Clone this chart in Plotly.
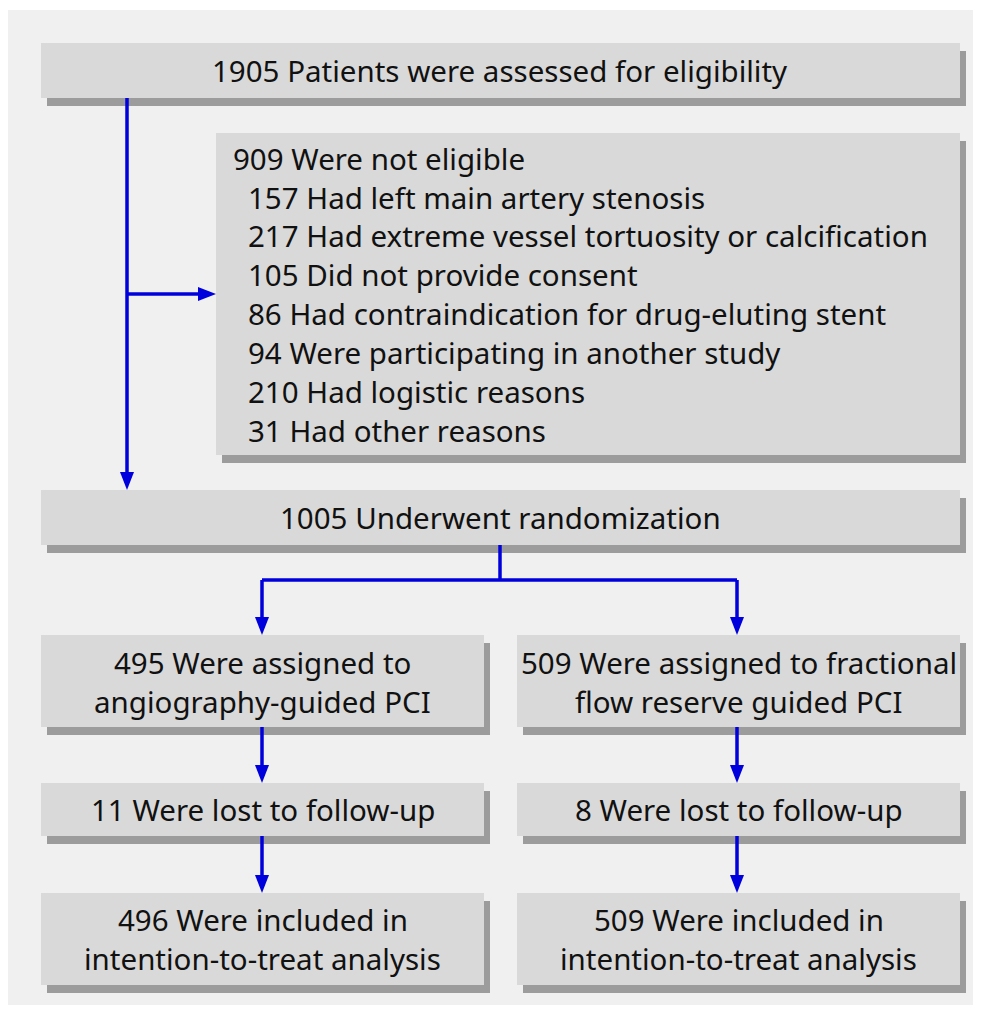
import plotly.graph_objects as go

# ---- data (texts of the flow diagram) ----
top_text = ["1905 Patients were assessed for eligibility"]
excl_header = ["909 Were not eligible"]
excl_counts = [157, 217, 105, 86, 94, 210, 31]
excl_reasons = [
    "Had left main artery stenosis",
    "Had extreme vessel tortuosity or calcification",
    "Did not provide consent",
    "Had contraindication for drug-eluting stent",
    "Were participating in another study",
    "Had logistic reasons",
    "Had other reasons",
]
rand_text = ["1005 Underwent randomization"]
arm_assigned = [["495 Were assigned to", "angiography-guided PCI"],
                ["509 Were assigned to fractional", "flow reserve guided PCI"]]
arm_lost = ["11 Were lost to follow-up", "8 Were lost to follow-up"]
arm_included = [["496 Were included in", "intention-to-treat analysis"],
                ["509 Were included in", "intention-to-treat analysis"]]

# page offset (body margin) handled via axis ranges
OFF = 8
W, H = 965, 1000
FONT = "Noto Sans"
FS = 29.5
BLUE = "#0000dd"
BOX = "#d9d9d9"
SHADOW = "#9c9c9c"

fig = go.Figure()
shapes = []
annotations = []

# panel background
shapes.append(dict(type="rect", x0=8, y0=10, x1=990, y1=1005, fillcolor="#f0f0f0",
                   line=dict(width=0), layer="below"))

def box(x0, y0, x1, y1):
    shapes.append(dict(type="rect", x0=x0 + 6, y0=y0 + 8, x1=x1 + 6, y1=y1 + 8,
                       fillcolor=SHADOW, line=dict(width=0), layer="below"))
    shapes.append(dict(type="rect", x0=x0, y0=y0, x1=x1, y1=y1,
                       fillcolor=BOX, line=dict(width=0), layer="below"))

def text(x, y, s, anchor="center"):
    annotations.append(dict(x=x, y=y, text=s, showarrow=False, xanchor=anchor,
                            yanchor="middle",
                            font=dict(family=FONT, size=FS, color="#111111")))

def line(x0, y0, x1, y1):
    shapes.append(dict(type="line", x0=x0, y0=y0, x1=x1, y1=y1,
                       line=dict(color=BLUE, width=3.5)))

def head_down(x, y):
    shapes.append(dict(type="path", path=f"M {x-7} {y-18} L {x+7} {y-18} L {x} {y} Z",
                       fillcolor=BLUE, line=dict(width=0)))

def head_right(x, y):
    shapes.append(dict(type="path", path=f"M {x-18} {y-7} L {x-18} {y+7} L {x} {y} Z",
                       fillcolor=BLUE, line=dict(width=0)))

# boxes
box(41, 43, 960, 98)
box(216, 133, 960, 455)
box(41, 490, 960, 545)
L = (41, 484)
R = (517, 960)
for (a, b) in (L, R):
    box(a, 635, b, 727)
    box(a, 783, b, 836)
    box(a, 893, b, 985)

# texts
text(500, 70, top_text[0])
text(231, 158, excl_header[0], "left")
for i, (c, r) in enumerate(zip(excl_counts, excl_reasons)):
    text(246, 197 + i * 38.9, f"{c} {r}", "left")
text(500, 517, rand_text[0])
centers = [(L[0] + L[1]) / 2, (R[0] + R[1]) / 2]
for i, cx in enumerate(centers):
    text(cx, 662, arm_assigned[i][0])
    text(cx, 701, arm_assigned[i][1])
    text(cx, 809, arm_lost[i])
    text(cx, 919, arm_included[i][0])
    text(cx, 958, arm_included[i][1])

# arrows
line(127, 98, 127, 476)
head_down(127, 490)
line(127, 294, 202, 294)
head_right(216, 294)
line(500, 545, 500, 580)
line(262, 580, 737, 580)
for ax in (262, 737):
    line(ax, 580, ax, 620)
    head_down(ax, 635)
    line(ax, 727, ax, 768)
    head_down(ax, 783)
    line(ax, 836, ax, 878)
    head_down(ax, 893)

fig.update_layout(
    width=W, height=H, margin=dict(l=0, r=0, t=0, b=0),
    paper_bgcolor="white", plot_bgcolor="white",
    xaxis=dict(range=[OFF, OFF + W], visible=False, fixedrange=True),
    yaxis=dict(range=[OFF + H, OFF], visible=False, fixedrange=True),
    shapes=shapes, annotations=annotations, showlegend=False,
)
fig.write_html("out.html")
